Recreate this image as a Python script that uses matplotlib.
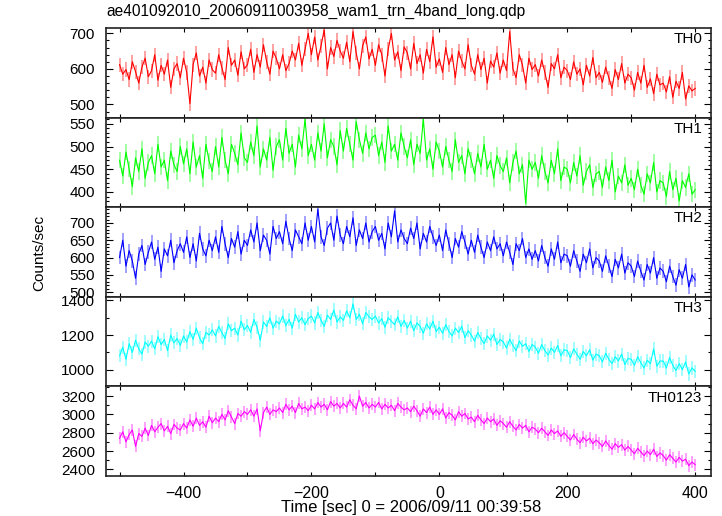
import matplotlib
matplotlib.use("Agg")
import matplotlib.pyplot as plt
from matplotlib.ticker import MultipleLocator
import numpy as np

plt.rcParams['font.family'] = ['Liberation Sans', 'DejaVu Sans']

# 5 sec bins, -500 .. 400 sec
time_sec = np.arange(-500, 401, 5)

th0 = [612, 585, 598, 570, 620, 592, 560, 605, 630, 578,
       595, 640, 568, 610, 585, 625, 548, 600, 615, 575,
       630, 590, 502, 612, 645, 580, 605, 560, 625, 598,
       588, 640, 603, 570, 660, 610, 625, 582, 648, 600,
       612, 655, 590, 640, 605, 668, 620, 585, 650, 630,
       600, 640, 595, 615, 650, 625, 672, 610, 655, 700,
       640, 690, 625, 665, 710, 600, 660, 635, 680, 650,
       630, 675, 620, 705, 645, 600, 665, 690, 628, 655,
       610, 668, 640, 580, 655, 700, 625, 648, 595, 662,
       645, 600, 672, 615, 640, 588, 655, 620, 690, 605,
       628, 590, 660, 612, 640, 575, 650, 622, 600, 668,
       610, 585, 640, 598, 630, 560, 622, 605, 645, 588,
       625, 595, 705, 600, 575, 640, 610, 560, 630, 598,
       612, 580, 625, 590, 548, 615, 600, 640, 575, 605,
       595, 570, 620, 585, 600, 555, 610, 580, 632, 575,
       590, 562, 605, 575, 545, 598, 570, 615, 560, 585,
       575, 540, 590, 560, 610, 548, 572, 530, 585, 555,
       560, 535, 578, 520, 565, 545, 590, 515, 552, 538,
       545]

th1 = [470, 435, 488, 450, 412, 475, 445, 495, 430, 465,
       480, 440, 505, 455, 470, 425, 490, 460, 445, 500,
       462, 495, 440, 510, 455, 480, 430, 505, 468, 445,
       500, 455, 520, 470, 440, 505, 485, 460, 530, 475,
       465, 510, 480, 545, 455, 495, 470, 520, 448, 500,
       515, 470, 540, 485, 505, 455, 525, 495, 560, 480,
       505, 470, 530, 490, 550, 475, 515, 500, 460, 535,
       490, 540, 505, 470, 555, 515, 485, 530, 495, 520,
       525, 480, 510, 465, 545, 490, 505, 470, 530, 500,
       475, 515, 460, 505, 485, 560, 470, 495, 450, 510,
       490, 455, 500, 470, 445, 515, 465, 480, 440, 495,
       470, 440, 485, 455, 505, 450, 470, 430, 480, 458,
       445, 475, 420, 465, 490, 440, 460, 375, 470, 450,
       465, 430, 480, 445, 420, 470, 440, 495, 425, 455,
       450, 420, 465, 435, 480, 415, 445, 460, 410, 440,
       445, 410, 455, 425, 470, 400, 435, 420, 460, 415,
       430, 405, 450, 415, 395, 440, 420, 465, 400, 425,
       420, 390, 445, 405, 430, 380, 425, 410, 440, 395,
       405]

th2 = [600, 650, 575, 620, 590, 540, 610, 635, 580, 615,
       645, 595, 630, 560, 625, 605, 650, 585, 620, 640,
       615, 660, 600, 640, 590, 670, 625, 605, 650, 620,
       660, 615, 690, 640, 600, 655, 630, 675, 610, 650,
       635, 680, 645, 700, 620, 665, 650, 610, 690, 655,
       675, 640, 705, 655, 620, 680, 660, 640, 700, 650,
       690, 645, 740, 660, 635, 685, 700, 650, 720, 665,
       640, 690, 660, 715, 635, 680, 655, 700, 645, 675,
       690, 650, 670, 625, 700, 660, 735, 645, 680, 655,
       640, 685, 655, 700, 625, 670, 645, 690, 660, 635,
       665, 620, 680, 640, 600, 655, 630, 675, 645, 610,
       650, 615, 665, 630, 600, 645, 620, 660, 625, 640,
       605, 645, 615, 580, 640, 620, 655, 600, 625, 595,
       620, 590, 635, 600, 575, 625, 595, 645, 585, 610,
       605, 575, 620, 590, 560, 610, 585, 625, 570, 600,
       590, 560, 605, 575, 545, 595, 570, 610, 555, 585,
       575, 545, 590, 560, 535, 580, 555, 600, 540, 570,
       560, 530, 575, 545, 520, 565, 540, 580, 515, 550,
       535]

th3 = [1080, 1130, 1060, 1150, 1100, 1170, 1120, 1090, 1160, 1135,
       1165, 1120, 1190, 1145, 1175, 1110, 1200, 1155, 1180, 1140,
       1195, 1160, 1220, 1175, 1240, 1185, 1150, 1215, 1200, 1230,
       1195, 1250, 1215, 1180, 1265, 1225, 1240, 1200, 1280, 1230,
       1255, 1215, 1290, 1245, 1170, 1275, 1250, 1300, 1240, 1280,
       1265, 1310, 1255, 1290, 1240, 1320, 1275, 1300, 1260, 1295,
       1310, 1270, 1330, 1285, 1250, 1315, 1290, 1345, 1275, 1305,
       1285, 1340, 1300, 1380, 1290, 1320, 1265, 1330, 1305, 1290,
       1310, 1270, 1295, 1245, 1300, 1280, 1260, 1305, 1250, 1285,
       1240, 1280, 1225, 1270, 1250, 1210, 1265, 1235, 1280, 1220,
       1245, 1210, 1260, 1220, 1195, 1240, 1215, 1250, 1185, 1225,
       1200, 1165, 1215, 1180, 1150, 1195, 1170, 1205, 1145, 1175,
       1160, 1125, 1175, 1140, 1110, 1165, 1135, 1150, 1105, 1145,
       1130, 1095, 1145, 1110, 1085, 1125, 1100, 1140, 1080, 1115,
       1110, 1070, 1120, 1090, 1060, 1105, 1080, 1115, 1055, 1090,
       1080, 1045, 1095, 1060, 1035, 1075, 1050, 1090, 1030, 1065,
       1060, 1025, 1075, 1040, 1010, 1055, 1035, 1120, 1020, 1050,
       1050, 1010, 1070, 1025, 995, 1035, 1000, 1045, 975, 1010,
       990]

th0123 = [2740, 2810, 2700, 2780, 2830, 2650, 2790, 2760, 2850, 2770,
          2880, 2810, 2860, 2900, 2820, 2870, 2790, 2890, 2850, 2830,
          2900, 2850, 2940, 2870, 2960, 2880, 2920, 2860, 2980, 2910,
          2960, 2920, 3000, 2940, 3040, 2970, 2900, 3010, 2980, 3030,
          3000, 3050, 2980, 3060, 2820, 3020, 3080, 3000, 3050, 3030,
          3070, 3020, 3110, 3050, 3090, 3020, 3120, 3060, 3080, 3040,
          3100, 3060, 3130, 3080, 3110, 3050, 3140, 3090, 3120, 3070,
          3120, 3080, 3160, 3100, 3060, 3200, 3090, 3130, 3070, 3110,
          3080, 3130, 3060, 3110, 3070, 3100, 3040, 3120, 3080, 3050,
          3070, 3030, 3090, 3040, 2980, 3060, 3020, 3080, 3000, 3050,
          3000, 3060, 2960, 3020, 2990, 2940, 3030, 2980, 3010, 2950,
          2970, 2920, 2990, 2940, 2900, 2960, 2920, 2950, 2880, 2930,
          2900, 2860, 2920, 2870, 2830, 2890, 2850, 2880, 2810, 2860,
          2840, 2800, 2850, 2810, 2770, 2830, 2790, 2820, 2760, 2800,
          2760, 2720, 2780, 2730, 2690, 2750, 2710, 2740, 2680, 2720,
          2690, 2650, 2710, 2660, 2620, 2680, 2640, 2670, 2610, 2650,
          2610, 2570, 2630, 2590, 2550, 2600, 2560, 2620, 2540, 2580,
          2550, 2500, 2560, 2520, 2480, 2530, 2490, 2510, 2440, 2480,
          2450]

# typical 1-sigma error of a bin, per band
band_errors = [20, 18, 20, 38, 65]
band_names = ["TH0", "TH1", "TH2", "TH3", "TH0123"]


def plot_light_curves():
    """
    Stacked light curves of the four WAM bands and their sum
    :return: None
    """
    series = [th0, th1, th2, th3, th0123]
    colors = ["#ff0000", "#00ff00", "#0000ff", "#00ffff", "#ff00ff"]
    ylims = [(462, 714), (366, 563), (486, 745), (903, 1420), (2327, 3305)]
    majors = [100, 50, 50, 200, 200]
    minors = [20, 10, 10, 100, 100]

    fig, axes = plt.subplots(5, 1, sharex=True, figsize=(7.22, 5.16), dpi=100)
    fig.subplots_adjust(left=0.147, right=0.985, top=0.945, bottom=0.0775, hspace=0)

    for ax, values, err, color, name, ylim, major, minor in zip(
            axes, series, band_errors, colors, band_names, ylims, majors, minors):
        ax.errorbar(time_sec, values, yerr=err, fmt="none", ecolor=color,
                    elinewidth=1.3, alpha=0.4)
        ax.plot(time_sec, values, color=color, linewidth=0.8)
        ax.set_ylim(ylim)
        ax.yaxis.set_major_locator(MultipleLocator(major))
        ax.yaxis.set_minor_locator(MultipleLocator(minor))
        ax.tick_params(axis="y", which="both", direction="in", left=True, right=True,
                       labelsize=11, pad=8)
        ax.tick_params(axis="y", which="major", length=5, width=0.8)
        ax.tick_params(axis="y", which="minor", length=2.5, width=0.8)
        ax.tick_params(axis="x", which="both", direction="in", top=True, bottom=True,
                       length=3, width=0.8, labelsize=11.5, pad=7)
        for spine in ax.spines.values():
            spine.set_linewidth(1.2)
            spine.set_color("#222222")
        ax.text(0.985, 0.955, name, transform=ax.transAxes, ha="right", va="top",
                fontsize=11)

    axes[-1].set_xlim(-521, 425)
    axes[-1].xaxis.set_major_locator(MultipleLocator(200))
    axes[-1].xaxis.set_minor_locator(MultipleLocator(100))

    fig.text(0.148, 0.977, "ae401092010_20060911003958_wam1_trn_4band_long.qdp",
             ha="left", va="center", fontsize=11.2)
    fig.text(0.055, 0.51, "Counts/sec", rotation=90, ha="center", va="center",
             fontsize=11)
    fig.text(0.569, 0.017, "Time [sec] 0 = 2006/09/11 00:39:58", ha="center",
             va="center", fontsize=12)

    fig.savefig("out.png", dpi=100)


plot_light_curves()
